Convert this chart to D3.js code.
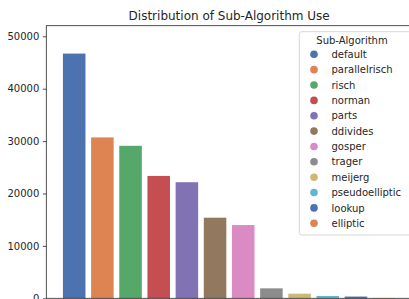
<!DOCTYPE html>
<html>
<head>
<meta charset="utf-8">
<script src="https://cdn.jsdelivr.net/npm/d3@7"></script>
<style>
  body { margin: 0; background: #fff; }
  text { font-family: "DejaVu Sans", sans-serif; fill: #262626; }
</style>
</head>
<body>
<svg id="chart"></svg>
<script>
var algorithms = ["default", "parallelrisch", "risch", "norman", "parts", "ddivides",
  "gosper", "trager", "meijerg", "pseudoelliptic", "lookup", "elliptic"];
var counts = [46700, 30700, 29100, 23350, 22150, 15380, 13980, 1900, 880, 450, 330, 60];
var yTicks = [0, 10000, 20000, 30000, 40000, 50000];
var palette = ["#4c72b0", "#dd8452", "#55a868", "#c44e52", "#8172b3", "#937860",
  "#da8bc3", "#8c8c8c", "#ccb974", "#64b5cd"];

var width = 409;
var height = 299;
var plotLeft = 46.3, plotRight = 412, plotTop = 25.7, plotBottom = 298.3;

var svg = d3.select("svg#chart")
    .attr("width", width)
    .attr("height", height);

// bars sit on integer positions like matplotlib, with its 5% margins
var x = d3.scaleLinear()
    .domain([-0.99, algorithms.length - 1 + 0.99])
    .range([plotLeft, plotRight]);
var y = d3.scaleLinear()
    .domain([0, 52020])
    .range([plotBottom, plotTop]);
var barW = x(0.8) - x(0);

var color = function(i) { return palette[i % palette.length]; };

svg.append("g").selectAll("rect")
    .data(counts)
    .enter().append("rect")
    .attr("x", function(d, i) { return x(i) - barW / 2; })
    .attr("y", function(d) { return y(d); })
    .attr("width", barW)
    .attr("height", function(d) { return y(0) - y(d); })
    .style("fill", function(d, i) { return color(i); });

// y axis
var yAxis = d3.axisLeft(y)
    .tickValues(yTicks)
    .tickSize(3.5)
    .tickPadding(3.5)
    .tickFormat(d3.format("d"));
var ga = svg.append("g")
    .attr("transform", "translate(" + plotLeft + ",0)")
    .call(yAxis);
ga.select(".domain").remove();
ga.selectAll("line").attr("stroke", "#262626").attr("stroke-width", 0.8);
ga.selectAll("text").attr("font-size", 10).style("fill", "#262626");

// frame
svg.append("rect")
    .attr("x", plotLeft)
    .attr("y", plotTop)
    .attr("width", plotRight - plotLeft)
    .attr("height", plotBottom - plotTop)
    .style("fill", "none")
    .style("stroke", "#262626")
    .style("stroke-width", 0.8);

// title
svg.append("text")
    .text("Distribution of Sub-Algorithm Use")
    .attr("x", (plotLeft + plotRight) / 2)
    .attr("y", 20)
    .attr("text-anchor", "middle")
    .attr("font-size", 12);

// legend
var lg = svg.append("g");
lg.append("rect")
    .attr("x", 299.3)
    .attr("y", 31.7)
    .attr("width", 112)
    .attr("height", 203.3)
    .attr("rx", 2.5)
    .style("fill", "white")
    .style("fill-opacity", 0.8)
    .style("stroke", "#cccccc")
    .style("stroke-width", 0.8);
lg.append("text")
    .text("Sub-Algorithm")
    .attr("x", 352)
    .attr("y", 44)
    .attr("text-anchor", "middle")
    .attr("font-size", 10);
var rowStep = 15.36;
var items = lg.selectAll("g.item")
    .data(algorithms)
    .enter().append("g")
    .attr("class", "item")
    .attr("transform", function(d, i) { return "translate(0," + (54.3 + i * rowStep) + ")"; });
items.append("circle")
    .attr("cx", 314)
    .attr("cy", 0)
    .attr("r", 3.8)
    .style("fill", function(d, i) { return color(i); });
items.append("text")
    .text(function(d) { return d; })
    .attr("x", 331.5)
    .attr("y", 3.6)
    .attr("font-size", 10);
</script>
</body>
</html>
